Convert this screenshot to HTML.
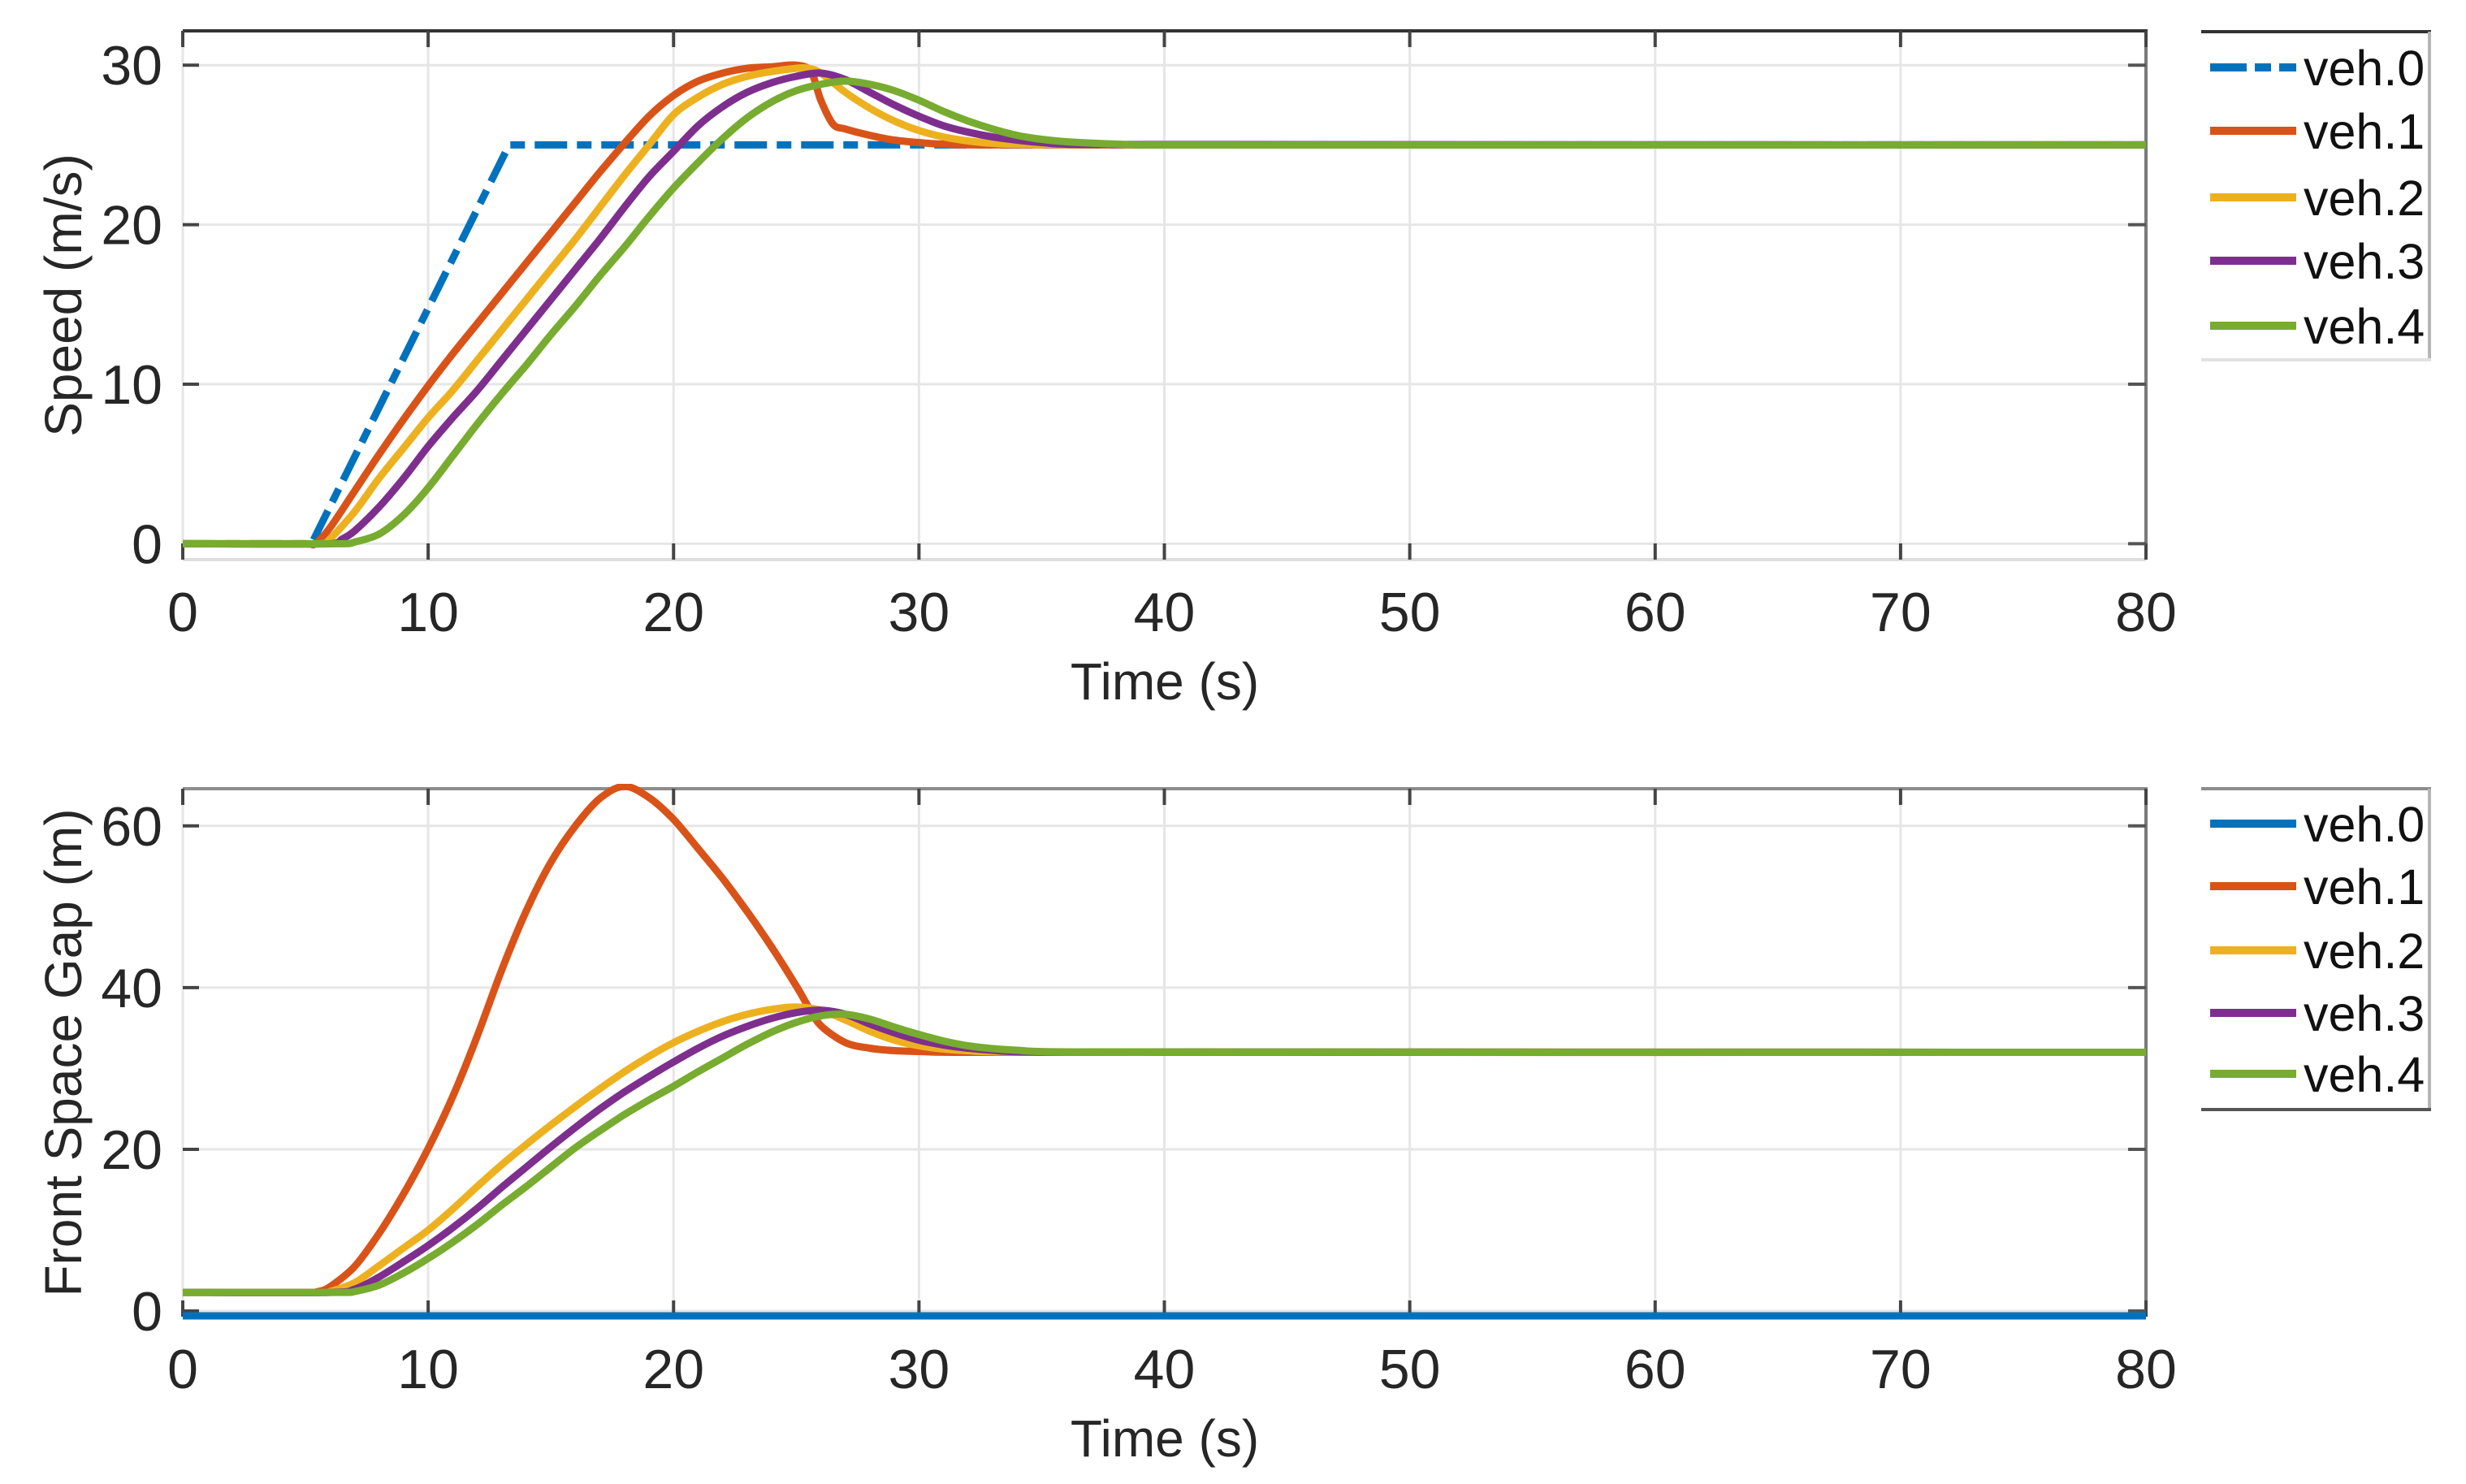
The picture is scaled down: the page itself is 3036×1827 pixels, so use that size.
<!DOCTYPE html>
<html><head><meta charset="utf-8"><style>
html,body{margin:0;padding:0;background:#fff;}
svg{display:block;font-family:"Liberation Sans",Arial,sans-serif;}
</style></head><body>
<svg id="fig" width="3036" height="1827" viewBox="0 0 3036 1827" xmlns="http://www.w3.org/2000/svg"></svg>
<script>
// ---------- data ----------
const xTicks = [0,10,20,30,40,50,60,70,80];
const speedTicks = [0,10,20,30];
const gapTicks = [0,20,40,60];
const names = ["veh.0","veh.1","veh.2","veh.3","veh.4"];

const t0s = [0,5.25,13.3,80];
const v0s = [0,0,25,25];
const t1s = [0,5,5.4,6,7,8,9,10,11,12,13,14,15,16,17,18,19,20,21,22,23,24,25,25.6,26,26.5,27,28,29,30,31,33,80];
const v1s = [0,0,0,1.0,3.3,5.6,7.8,9.9,11.9,13.8,15.7,17.6,19.5,21.4,23.3,25.1,26.8,28.1,29.0,29.5,29.8,29.9,30.0,29.6,27.8,26.3,26.0,25.6,25.3,25.15,25.05,25,25];
const t2s = [0,5.6,6,7,8,9,10,11,12,13,14,15,16,17,18,19,20,21,22,23,24,25,25.5,26,27,28,29,30,31,32,33,35,80];
const v2s = [0,0,0.3,2.0,4.1,6.0,7.9,9.6,11.5,13.4,15.3,17.2,19.1,21.1,23.1,25.0,26.9,28.0,28.8,29.3,29.6,29.8,29.8,29.5,28.3,27.3,26.5,25.9,25.5,25.25,25.1,25.02,25];
const t3s = [0,6,6.5,7,8,9,10,11,12,13,14,15,16,17,18,19,20,21,22,23,24,25,26,27,28,29,30,31,32,33,34,35,37,80];
const v3s = [0,0,0.3,0.8,2.3,4.1,6.1,7.9,9.6,11.5,13.4,15.3,17.2,19.1,21.1,23.0,24.6,26.2,27.4,28.3,28.9,29.3,29.5,29.1,28.3,27.5,26.8,26.2,25.8,25.5,25.3,25.15,25.03,25];
const t4s = [0,6.5,7,8,9,10,11,12,13,14,15,16,17,18,19,20,21,22,23,24,25,26,27,28,29,30,31,32,33,34,35,36,38,40,80];
const v4s = [0,0,0.1,0.6,1.8,3.5,5.5,7.5,9.4,11.2,13.1,14.9,16.8,18.6,20.5,22.3,23.9,25.4,26.7,27.7,28.4,28.8,29.0,28.8,28.4,27.8,27.1,26.5,26.0,25.6,25.35,25.2,25.05,25,25];

const g0t = [0,80];
const g0v = [-0.6,-0.6];
const g1t = [0,5,5.5,6,7,8,9,10,11,12,13,14,15,16,17,18,19,20,21,22,23,24,25,25.5,26,27,28,29,30,32,80];
const g1v = [2.3,2.3,2.4,3.0,5.5,9.6,14.5,20.1,26.5,34,42.2,49.5,55.5,60,63.4,64.9,63.5,60.8,57.2,53.5,49.4,45,40.2,37.6,35.3,33.2,32.5,32.2,32.1,32.0,32];
const g2t = [0,5.7,6,7,8,9,10,11,12,13,14,15,16,17,18,19,20,21,22,23,24,25,26,27,28,29,30,31,32,34,80];
const g2v = [2.3,2.3,2.4,3.5,5.6,7.8,10.0,12.6,15.4,18.1,20.6,23.0,25.3,27.5,29.6,31.5,33.2,34.6,35.8,36.7,37.3,37.6,37.2,36,34.6,33.5,32.8,32.4,32.2,32.05,32];
const g3t = [0,6,7,8,9,10,11,12,13,14,15,16,17,18,19,20,21,22,23,24,25,26,27,28,29,30,31,32,33,35,80];
const g3v = [2.3,2.3,2.7,4.2,6.1,8.1,10.3,12.7,15.3,17.8,20.3,22.7,25.0,27.1,29.0,30.8,32.5,34.0,35.2,36.2,36.9,37.2,36.7,35.5,34.4,33.5,32.9,32.5,32.25,32.05,32];
const g4t = [0,6.5,7,8,9,10,11,12,13,14,15,16,17,18,19,20,21,22,23,24,25,26,27,28,29,30,31,32,33,34,36,80];
const g4v = [2.3,2.3,2.4,3.2,4.7,6.5,8.5,10.7,13.1,15.4,17.8,20.2,22.3,24.3,26.1,27.8,29.6,31.3,33,34.5,35.7,36.5,36.7,36.1,35.1,34.2,33.4,32.8,32.45,32.25,32.05,32];

const colors = ["#0072BD","#D95319","#EDB120","#7E2F8E","#77AC30"];

// ---------- drawing ----------
const NS = "http://www.w3.org/2000/svg";
const svg = document.getElementById('fig');
function mk(tag, attrs, parent){
  const e = document.createElementNS(NS, tag);
  for (const k in attrs) e.setAttribute(k, attrs[k]);
  (parent||svg).appendChild(e);
  return e;
}
const X0 = 225, X1 = 2642;
function xs(t){ return X0 + (t/80)*(X1-X0); }

function smoothPath(px){
  let d = "M"+px[0][0].toFixed(1)+","+px[0][1].toFixed(1);
  for (let i=0;i<px.length-1;i++){
    const p0 = px[Math.max(0,i-1)], p1 = px[i], p2 = px[i+1], p3 = px[Math.min(px.length-1,i+2)];
    const k = 0.16;
    let c1x = p1[0]+(p2[0]-p0[0])*k, c1y = p1[1]+(p2[1]-p0[1])*k;
    let c2x = p2[0]-(p3[0]-p1[0])*k, c2y = p2[1]-(p3[1]-p1[1])*k;
    c1x = Math.min(Math.max(c1x,p1[0]),p2[0]); c2x = Math.min(Math.max(c2x,p1[0]),p2[0]);
    d += " C"+c1x.toFixed(1)+","+c1y.toFixed(1)+" "+c2x.toFixed(1)+","+c2y.toFixed(1)+" "+p2[0].toFixed(1)+","+p2[1].toFixed(1);
  }
  return d;
}

function panel(opt){
  const g = mk('g',{});
  
  
  const ys = v => opt.yb - (v-opt.ymin)/(opt.ymax-opt.ymin)*(opt.yb-opt.yt);
  xTicks.forEach(t=>{
    const l = mk('line',{x1:xs(t),x2:xs(t),y1:opt.yt,y2:opt.yb,stroke:"#e6e6e6","stroke-width":3},g);
     
  });
  opt.yTicks.forEach(v=>{
    const l = mk('line',{x1:X0,x2:X1,y1:ys(v),y2:ys(v),stroke:"#e6e6e6","stroke-width":3},g);
     
  });
  mk('line',{x1:X0,x2:X1+2,y1:opt.yt,y2:opt.yt,stroke:opt.topColor,"stroke-width":4},g);
  mk('line',{x1:X1,x2:X1,y1:opt.yt,y2:opt.yb,stroke:"#7a7a7a","stroke-width":4},g);
  mk('line',{x1:X0,x2:X1,y1:opt.yb,y2:opt.yb,stroke:"#dedede","stroke-width":4},g);
  xTicks.forEach(t=>{
    mk('line',{x1:xs(t),x2:xs(t),y1:opt.yt,y2:opt.yt+20,stroke:"#444","stroke-width":4},g);
    mk('line',{x1:xs(t),x2:xs(t),y1:opt.yb-20,y2:opt.yb,stroke:"#444","stroke-width":4},g);
    const tx = mk('text',{x:xs(t),y:opt.yb+88,"text-anchor":"middle","font-size":68,fill:"#262626"},g);
    tx.textContent = t;
     
  });
  opt.yTicks.forEach(v=>{
    mk('line',{x1:X0,x2:X0+20,y1:ys(v),y2:ys(v),stroke:"#444","stroke-width":4},g);
    mk('line',{x1:X1-22,x2:X1,y1:ys(v),y2:ys(v),stroke:"#555","stroke-width":4},g);
    const tx = mk('text',{x:200,y:ys(v)+24,"text-anchor":"end","font-size":68,fill:"#262626"},g);
    tx.textContent = v;
     
  });
  const xt = mk('text',{x:1434,y:opt.yb+172,"text-anchor":"middle","font-size":64,fill:"#262626"},g);
  xt.textContent = "Time (s)";
   
  const yc = (opt.yt+opt.yb)/2;
  const yt = mk('text',{x:100,y:yc,"text-anchor":"middle","font-size":64,fill:"#262626",transform:"rotate(-90 100 "+yc+")"},g);
  yt.textContent = opt.ytitle;
   
  const clipId = opt.name+"-clip";
  const cp = mk('clipPath',{id:clipId},g);
  mk('rect',{x:X0,y:opt.yt-6,width:X1-X0,height:opt.yb-opt.yt+12},cp);
  opt.series.forEach((s,i)=>{
    const px = s[0].map((t,j)=>[xs(t),ys(s[1][j])]);
    const d = (i===0) ? "M"+px.map(p=>p[0].toFixed(1)+","+p[1].toFixed(1)).join(" L") : smoothPath(px);
    const attrs = {d:d,fill:"none",stroke:colors[i],"stroke-width":9,"stroke-linejoin":"round","clip-path":"url(#"+clipId+")"};
    if (i===0 && opt.dashed) attrs["stroke-dasharray"]="40 12 18 12";
    const p = mk('path',attrs,g);
     
  });
  const lg = mk('g',{},g);
   
  mk('rect',{x:2710,y:opt.lt,width:282,height:opt.lb-opt.lt,fill:"#fff"},lg);
  mk('line',{x1:2710,x2:2993,y1:opt.lt,y2:opt.lt,stroke:opt.legTop,"stroke-width":4},lg);
  mk('line',{x1:2991,x2:2991,y1:opt.lt,y2:opt.lb,stroke:"#b5b5b5","stroke-width":4},lg);
  mk('line',{x1:2710,x2:2993,y1:opt.lb,y2:opt.lb,stroke:opt.legBot,"stroke-width":4},lg);
  names.forEach((n,i)=>{
    const y = opt.legY[i];
    const e = mk('g',{},lg);
     
    const la = {x1:2721,x2:2827,y1:y,y2:y,stroke:colors[i],"stroke-width":10};
    if (i===0 && opt.dashed) la["stroke-dasharray"]="45 10 20 10";
    mk('line',la,e);
    const tx = mk('text',{x:2836,y:y+22,"font-size":61,fill:"#111"},e);
    tx.textContent = n;
  });
}

panel({name:"speed-panel", yt:38, yb:689, ymin:-1.0, ymax:32.15, yTicks:speedTicks, ytitle:"Speed (m/s)",
  topColor:"#333", dashed:true,
  series:[[t0s,v0s],[t1s,v1s],[t2s,v2s],[t3s,v3s],[t4s,v4s]],
  lt:39, lb:443, legY:[83,161,243,321,401], legTop:"#333", legBot:"#e2e2e2"});
panel({name:"gap-panel", yt:971, yb:1621, ymin:-0.7, ymax:64.6, yTicks:gapTicks, ytitle:"Front Space Gap (m)",
  topColor:"#8c8c8c", dashed:false,
  series:[[g0t,g0v],[g1t,g1v],[g2t,g2v],[g3t,g3v],[g4t,g4v]],
  lt:971, lb:1366, legY:[1014,1091,1170,1247,1322], legTop:"#8c8c8c", legBot:"#555"});
</script>
</body></html>
